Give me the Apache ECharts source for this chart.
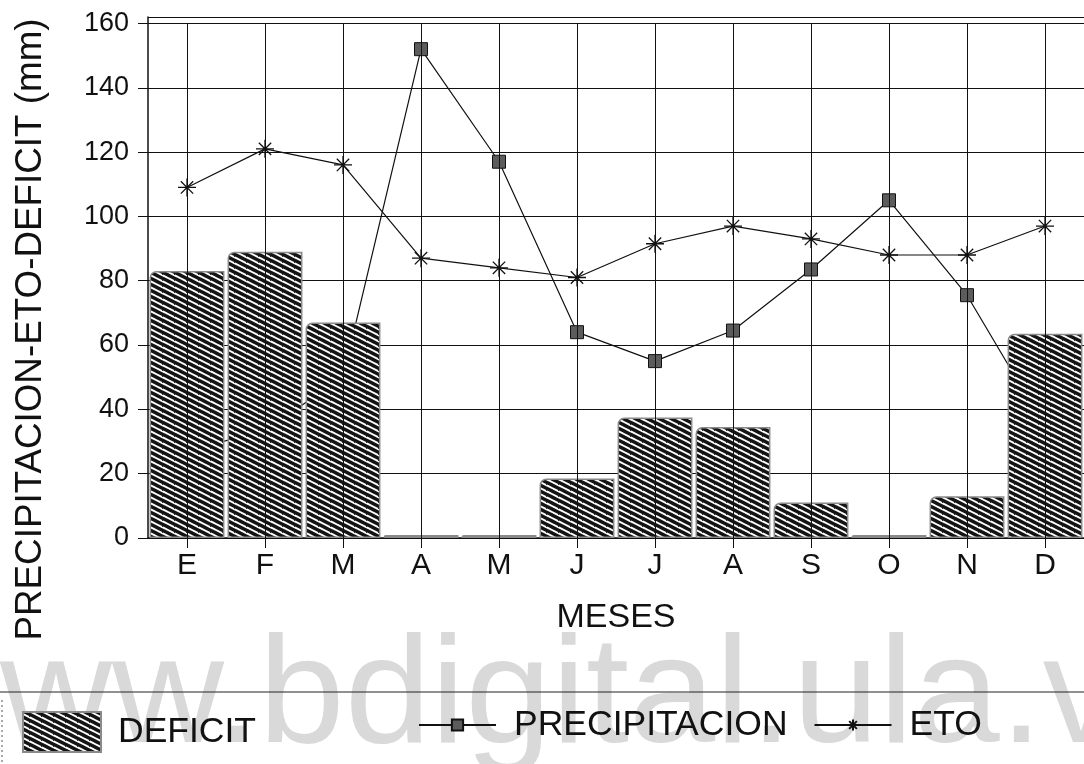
<!DOCTYPE html>
<html>
<head>
<meta charset="utf-8">
<script src="https://cdn.jsdelivr.net/npm/echarts@6/dist/echarts.min.js"></script>
<style>
html,body{margin:0;padding:0;background:#fff;}
#chart{width:1084px;height:764px;}
</style>
</head>
<body>
<div id="chart"></div>
<script>
const months = ['E','F','M','A','M','J','J','A','S','O','N','D'];
const deficit = [83, 89, 67, 0, 0, 18.5, 37.5, 34.5, 11, 0, 13, 63.5];
const precipitacion = [27, 33.5, 50, 152, 117, 64, 55, 64.5, 83.5, 105, 75.5, 34.5];
const eto = [109, 121, 116, 87, 84, 81, 91.5, 97, 93, 88, 88, 97];
const yAxisTitle = 'PRECIPITACION-ETO-DEFICIT (mm)';
const xAxisTitle = 'MESES';
const watermark = 'www.bdigital.ula.ve';

const FONT = '"Liberation Sans", Arial, Helvetica, sans-serif';

function makeHatch() {
  const c = document.createElement('canvas');
  c.width = 12; c.height = 6;
  const g = c.getContext('2d');
  g.fillStyle = '#141414';
  g.fillRect(0, 0, 12, 6);
  g.strokeStyle = '#ffffff';
  g.lineWidth = 2;
  for (const dy of [-6, 0, 6]) {
    g.beginPath();
    g.moveTo(-12, -6 + dy + 2);
    g.lineTo(24, 12 + dy + 2);
    g.stroke();
  }
  g.fillStyle = '#333';
  g.fillRect(6, 4, 1, 1);
  return c;
}
const hatch = makeHatch();
const hatchColor = { image: hatch, repeat: 'repeat' };

const chart = echarts.init(document.getElementById('chart'), null, { renderer: 'canvas' });

const asterisk = 'path://M0,8L16,8M8,0L8,16M2.5,2.5L13.5,13.5M13.5,2.5L2.5,13.5';

const option = {
  backgroundColor: '#ffffff',
  animation: false,
  textStyle: { fontFamily: FONT },
  grid: { left: 148, top: 17, width: 939, height: 521, containLabel: false },
  xAxis: {
    type: 'category',
    data: months,
    boundaryGap: true,
    name: xAxisTitle,
    nameLocation: 'middle',
    nameGap: 63,
    nameTextStyle: { fontSize: 34, color: '#111', fontFamily: FONT },
    axisLine: { show: true, lineStyle: { color: '#111', width: 1.5 } },
    axisTick: { show: true, alignWithLabel: true, length: 10, lineStyle: { color: '#111' } },
    axisLabel: { fontSize: 30, color: '#111', margin: 13, fontFamily: FONT },
    splitLine: { show: false }
  },
  yAxis: {
    type: 'value',
    min: 0,
    max: 162,
    interval: 20,
    axisLine: { show: true, lineStyle: { color: '#111', width: 1.5 } },
    axisTick: { show: true, length: 10, lineStyle: { color: '#111' } },
    axisLabel: { fontSize: 27, color: '#111', margin: 19, showMaxLabel: false, fontFamily: FONT },
    splitLine: { show: true, lineStyle: { color: '#111', width: 1 } }
  },
  legend: [
    {
      data: [{ name: 'DEFICIT', icon: 'rect' }],
      left: 17, top: 706,
      itemWidth: 78, itemHeight: 40,
      textStyle: { fontSize: 35.5, color: '#111', fontFamily: FONT, padding: [0, 0, 6, 12] },
      selectedMode: false
    },
    {
      data: ['PRECIPITACION', 'ETO'],
      left: 413, top: 702,
      itemWidth: 77, itemHeight: 14,
      itemGap: 26,
      textStyle: { fontSize: 35.5, color: '#111', fontFamily: FONT, padding: [0, 0, 0, 13] },
      selectedMode: false
    }
  ],
  graphic: [
    {
      type: 'text', z: -10, silent: true,
      x: -112, y: 700, scaleX: 1.02,
      style: { text: watermark, fontSize: 152, fontFamily: FONT, fill: '#d9d9d9', verticalAlign: 'middle', align: 'left' }
    },
    {
      type: 'line', silent: true, z: 5,
      shape: { x1: 0, y1: 692, x2: 1084, y2: 692 },
      style: { stroke: '#222', lineWidth: 1.2 }
    },
    {
      type: 'line', silent: true, z: 5,
      shape: { x1: 2, y1: 700, x2: 2, y2: 764 },
      style: { stroke: '#555', lineWidth: 1, lineDash: [2, 3] }
    },
    {
      type: 'text', silent: true,
      x: 31, y: 329.5, rotation: Math.PI / 2,
      style: { text: yAxisTitle, fontSize: 36.8, fontFamily: FONT, fill: '#111', align: 'center', verticalAlign: 'middle' }
    }
  ],
  series: [
    {
      name: 'grid-v',
      type: 'line',
      data: [],
      z: 1,
      silent: true,
      markLine: {
        silent: true,
        symbol: 'none',
        label: { show: false },
        lineStyle: { color: '#111', width: 1, type: 'solid' },
        data: months.map((m, i) => [{ xAxis: i, yAxis: 0 }, { xAxis: i, yAxis: 160 }])
      }
    },
    {
      name: 'PRECIPITACION',
      type: 'line',
      data: precipitacion,
      z: 3,
      symbol: 'rect',
      symbolSize: 13,
      itemStyle: { color: '#5c5c5c', borderColor: '#111', borderWidth: 1 },
      lineStyle: { color: '#111', width: 1.2 }
    },
    {
      name: 'ETO',
      type: 'line',
      data: eto,
      z: 3,
      symbol: asterisk,
      symbolSize: 18,
      itemStyle: { color: 'rgba(0,0,0,0)', borderColor: '#111', borderWidth: 1.3 },
      lineStyle: { color: '#111', width: 1.2 }
    },
    {
      name: 'DEFICIT',
      type: 'bar',
      data: deficit,
      z: 4,
      barCategoryGap: '4%',
      barMinHeight: 3,
      itemStyle: {
        color: hatchColor,
        borderColor: '#8a8a8a',
        borderWidth: 1.5,
        borderRadius: [6, 0, 0, 0]
      }
    }
  ]
};
chart.setOption(option);
</script>
</body>
</html>
